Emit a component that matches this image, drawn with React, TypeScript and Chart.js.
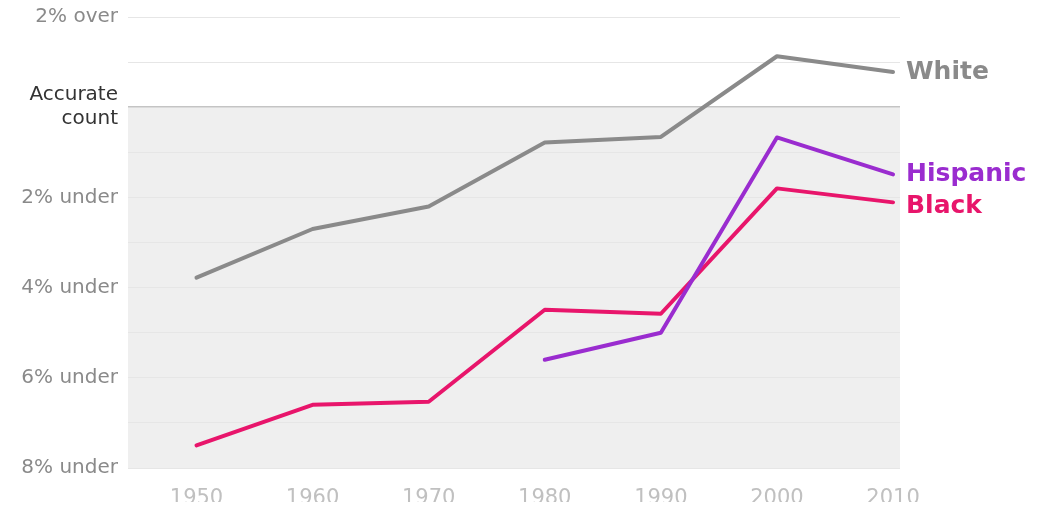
import React, { useEffect, useRef } from "react";
import { Chart, registerables } from "chart.js";

Chart.register(...registerables);

const years = [1950, 1960, 1970, 1980, 1990, 2000, 2010];
const whiteValues = [-3.78, -2.7, -2.2, -0.78, -0.66, 1.13, 0.78];
const blackValues = [-7.5, -6.6, -6.53, -4.49, -4.58, -1.8, -2.11];
const hispanicYears = [1980, 1990, 2000, 2010];
const hispanicValues = [-5.6, -5.0, -0.67, -1.49];
const yTickLabels: Record<number, string | string[]> = {
  2: "2% over",
  0: ["Accurate", "count"],
  [-2]: "2% under",
  [-4]: "4% under",
  [-6]: "6% under",
  [-8]: "8% under",
};
const seriesNames = ["White", "Hispanic", "Black"];
const seriesColors = ["#8a8a8a", "#9a2ccf", "#e8156b"];

const FONT = "'DejaVu Sans', sans-serif";

const underPlugin = {
  id: "underShade",
  beforeDraw(chart: any) {
    const { ctx, chartArea, scales } = chart;
    const y0 = scales.y.getPixelForValue(0);
    const yB = scales.y.getPixelForValue(-8);
    ctx.save();
    ctx.fillStyle = "#efefef";
    ctx.fillRect(chartArea.left, y0, chartArea.right - chartArea.left, yB - y0);
    ctx.restore();
  },
};

const endLabelPlugin = {
  id: "endLabels",
  afterDatasetsDraw(chart: any) {
    const { ctx } = chart;
    ctx.save();
    ctx.font = `bold 25px ${FONT}`;
    ctx.textBaseline = "middle";
    ctx.textAlign = "left";
    chart.data.datasets.forEach((ds: any, i: number) => {
      const meta = chart.getDatasetMeta(i);
      const last = meta.data[meta.data.length - 1];
      if (!last) return;
      ctx.fillStyle = ds.borderColor;
      const nudge = ds.label === "Black" ? 4 : 0;
      ctx.fillText(ds.label, last.x + 13, last.y + nudge);
    });
    ctx.restore();
  },
};

export default function App() {
  const ref = useRef<HTMLCanvasElement>(null);
  useEffect(() => {
    if (!ref.current) return;
    const chart = new Chart(ref.current, {
      type: "line",
      data: {
        datasets: [
          {
            label: seriesNames[0],
            data: years.map((x, i) => ({ x, y: whiteValues[i] })),
            borderColor: seriesColors[0],
          },
          {
            label: seriesNames[1],
            data: hispanicYears.map((x, i) => ({ x, y: hispanicValues[i] })),
            borderColor: seriesColors[1],
          },
          {
            label: seriesNames[2],
            data: years.map((x, i) => ({ x, y: blackValues[i] })),
            borderColor: seriesColors[2],
          },
        ],
      },
      options: {
        animation: false,
        responsive: false,
        maintainAspectRatio: false,
        layout: { padding: { top: 9, right: 129, left: 0, bottom: 0 } },
        elements: {
          line: { borderWidth: 4, tension: 0, borderCapStyle: "round", borderJoinStyle: "round" },
          point: { radius: 0, hoverRadius: 0 },
        },
        plugins: { legend: { display: false }, tooltip: { enabled: false } },
        scales: {
          x: {
            type: "linear",
            min: 1944.1,
            max: 2010.6,
            grid: { display: false, drawTicks: false },
            border: { display: false },
            afterBuildTicks: (scale: any) => {
              scale.ticks = years.map((v) => ({ value: v }));
            },
            afterFit: (scale: any) => {
              scale.height = 42;
              scale.paddingLeft = 0;
              scale.paddingRight = 0;
            },
            ticks: {
              padding: 18,
              color: "#c0c0c0",
              font: { family: FONT, size: 21 },
              callback: (v: any) => String(v),
              maxRotation: 0,
              autoSkip: false,
            },
          },
          y: {
            min: -8,
            max: 2,
            grid: {
              drawTicks: false,
              color: (c: any) => (c.tick && c.tick.value === 0 ? "#c4c4c4" : "#e6e6e6"),
              lineWidth: (c: any) => (c.tick && c.tick.value === 0 ? 1.5 : 1),
            },
            border: { display: false },
            afterFit: (scale: any) => {
              scale.width = 120;
              scale.paddingTop = 0;
              scale.paddingBottom = 0;
            },
            ticks: {
              stepSize: 1,
              padding: 10,
              autoSkip: false,
              font: { family: FONT, size: 20 },
              color: (c: any) => (c.tick && c.tick.value === 0 ? "#333333" : "#8a8a8a"),
              callback: (v: any) => {
                const l = yTickLabels[Math.round(v)];
                return Number.isInteger(v) && l !== undefined ? l : "";
              },
            },
          },
        },
      },
      plugins: [underPlugin, endLabelPlugin],
    } as any);
    return () => chart.destroy();
  }, []);
  return (
    <canvas
      ref={ref}
      width={1021}
      height={502}
      style={{ display: "block", width: 1021, height: 502, marginBottom: -8 }}
    />
  );
}
